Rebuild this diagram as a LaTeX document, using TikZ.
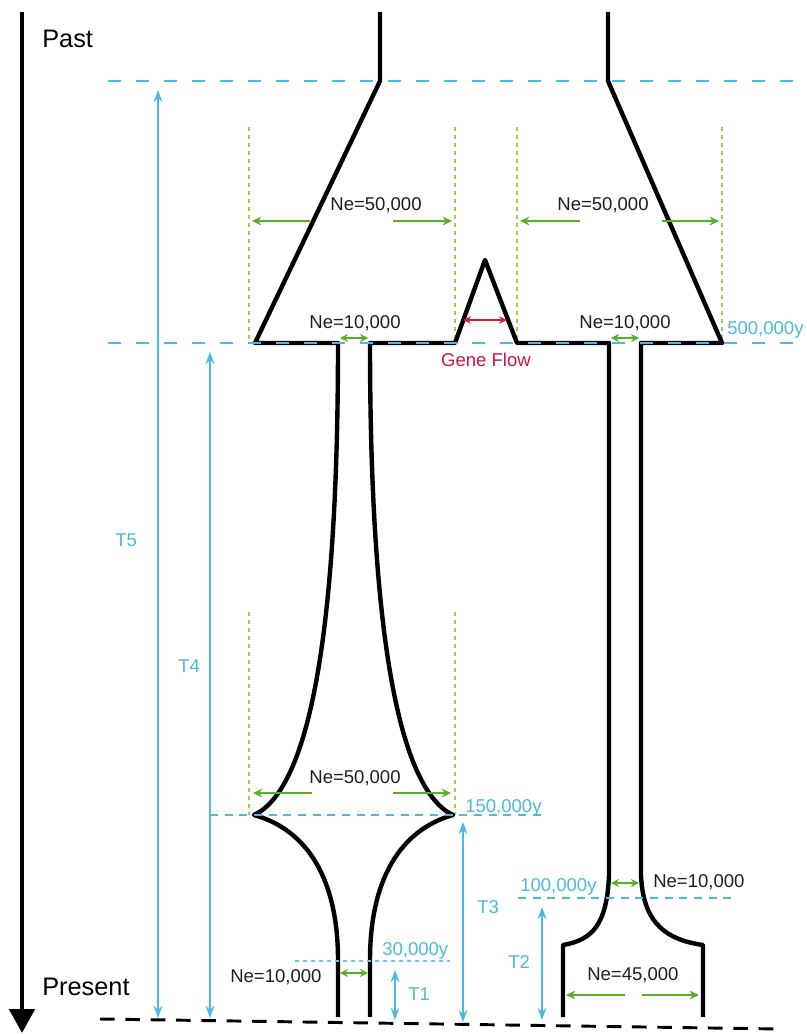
\documentclass[tikz,border=0pt]{standalone}
\usepackage{fontspec}
\setmainfont{Liberation Sans}
\usetikzlibrary{arrows.meta}
\definecolor{tblue}{RGB}{75,185,225}
\definecolor{tgreen}{RGB}{85,175,40}
\definecolor{tguide}{RGB}{150,210,80}
\definecolor{tred}{RGB}{215,30,35}
\definecolor{tcrimson}{RGB}{200,20,70}
\definecolor{ttext}{RGB}{30,30,30}
\tikzset{
  tree/.style={line width=3.3pt, line join=round, line cap=butt},
  timeline/.style={tblue, line width=1.3pt, dash pattern=on 9.75pt off 11.25pt},
  shortdash/.style={tblue, line width=1.2pt, dash pattern=on 6pt off 5pt},
  dotline/.style={tblue!80, line width=1.2pt, dash pattern=on 3pt off 3pt},
  guide/.style={tguide, line width=1.3pt, dash pattern=on 3pt off 3pt},
  garrow/.style={tgreen, line width=1.7pt, -{Stealth[length=7pt,width=6.5pt]}},
  gdarrow/.style={tgreen, line width=1.7pt, {Stealth[length=6pt,width=6pt]}-{Stealth[length=6pt,width=6pt]}},
  rdarrow/.style={tred, line width=1.3pt, {Stealth[length=6pt,width=5.5pt]}-{Stealth[length=6pt,width=5.5pt]}},
  barrow/.style={tblue, line width=1.2pt, {Stealth[length=9pt,width=6.5pt]}-{Stealth[length=9pt,width=6.5pt]}},
  lbl/.style={font=\fontsize{13.9}{16}\selectfont, text=ttext, inner sep=0pt},
  blbl/.style={font=\fontsize{13.9}{16}\selectfont, text=tblue, inner sep=0pt},
  big/.style={font=\fontsize{19}{22}\selectfont, text=black, inner sep=0pt},
}
\begin{document}
\begin{tikzpicture}[x=0.75pt,y=-0.75pt]
\useasboundingbox (0,0) rectangle (806,1034);

% ---------- time axis ----------
\coordinate (axtop) at (22,12);
\coordinate (axbot) at (22,1033);
\draw[line width=3pt, -{Triangle[length=18pt,width=19pt]}] (axtop) -- (axbot);
\node[big, anchor=base west] (past) at (42,48) {Past};
\node[big, anchor=base west] (present) at (42,995) {Present};

% ---------- green guide lines ----------
\coordinate (g1a) at (249,127); \coordinate (g1b) at (249,343);
\coordinate (g2a) at (455,127); \coordinate (g2b) at (455,343);
\coordinate (g3a) at (517,127); \coordinate (g3b) at (517,343);
\coordinate (g4a) at (722,127); \coordinate (g4b) at (722,343);
\coordinate (g5a) at (249,612); \coordinate (g5b) at (249,815);
\coordinate (g6a) at (455,612); \coordinate (g6b) at (455,815);
\draw[guide] (g1a) -- (g1b);
\draw[guide] (g2a) -- (g2b);
\draw[guide] (g3a) -- (g3b);
\draw[guide] (g4a) -- (g4b);
\draw[guide] (g5a) -- (g5b);
\draw[guide] (g6a) -- (g6b);

% ---------- population outlines ----------
\draw[tree] (380,12) -- (380,81) -- (255,343) -- (338,343)
  .. controls (338,640) and (308,790) .. (254,815)
  .. controls (308,830) and (338,880) .. (338,960) -- (338,1017);
\draw[tree] (370,1017) -- (370,960)
  .. controls (370,880) and (400,830) .. (453,815)
  .. controls (400,790) and (370,640) .. (370,343)
  -- (455,343) -- (485,260) -- (517,343) -- (609,343) -- (609,875)
  .. controls (607,925) and (592,940) .. (563,945) -- (563,1017);
\draw[tree] (608,12) -- (608,81) -- (722,343) -- (641,343) -- (641,875)
  .. controls (643,925) and (668,940) .. (703,945) -- (703,1017);

% ---------- time lines ----------
\coordinate (l1a) at (108,81);  \coordinate (l1b) at (806,81);
\coordinate (l2a) at (108,343); \coordinate (l2b) at (806,343);
\coordinate (l3a) at (210,815); \coordinate (l3b) at (541,815);
\coordinate (l4a) at (518,898); \coordinate (l4b) at (737,898);
\coordinate (l5a) at (295,961); \coordinate (l5b) at (450,961);
\draw[timeline] (l1a) -- (l1b);
\draw[timeline] (l2a) -- (l2b);
\draw[shortdash] (l3a) -- (l3b);
\draw[shortdash] (l4a) -- (l4b);
\draw[dotline] (l5a) -- (l5b);

% present line
\coordinate (pl1) at (100,1019);
\coordinate (pl2) at (780,1029);
\draw[line width=2.2pt, dash pattern=on 11pt off 8pt] (pl1) -- (pl2);

% ---------- interval arrows ----------
\coordinate (t5a) at (158,90);  \coordinate (t5b) at (158,1018);
\coordinate (t4a) at (210,352); \coordinate (t4b) at (210,1018);
\coordinate (t3a) at (463,822); \coordinate (t3b) at (463,1022);
\coordinate (t2a) at (542,907); \coordinate (t2b) at (542,1020);
\coordinate (t1a) at (395,970); \coordinate (t1b) at (395,1020);
\draw[barrow] (t5a) -- (t5b);
\draw[barrow] (t4a) -- (t4b);
\draw[barrow] (t3a) -- (t3b);
\draw[barrow] (t2a) -- (t2b);
\draw[barrow] (t1a) -- (t1b);
\node[blbl, anchor=base west] (T5) at (115,546) {T5};
\node[blbl, anchor=base west] (T4) at (178,672) {T4};
\node[blbl, anchor=base west] (T3) at (477,913) {T3};
\node[blbl, anchor=base west] (T2) at (508,968) {T2};
\node[blbl, anchor=base west] (T1) at (408,1000) {T1};

% ---------- time labels ----------
\node[blbl, anchor=base west] (y500) at (727,334) {500,000y};
\node[blbl, anchor=base west] (y150) at (465,812) {150,000y};
\node[blbl, anchor=base west] (y100) at (520,891) {100,000y};
\node[blbl, anchor=base west] (y30) at (382,955) {30,000y};

% ---------- Ne labels and arrows ----------
\node[lbl, anchor=base] (ne1) at (376,211) {Ne=50,000};
\coordinate (a1s) at (310,221); \coordinate (a1e) at (252,221);
\coordinate (a2s) at (393,221); \coordinate (a2e) at (452,221);
\draw[garrow] (a1s) -- (a1e);
\draw[garrow] (a2s) -- (a2e);

\node[lbl, anchor=base] (ne2) at (603,211) {Ne=50,000};
\coordinate (a3s) at (580,221); \coordinate (a3e) at (520,221);
\coordinate (a4s) at (662,221); \coordinate (a4e) at (719,221);
\draw[garrow] (a3s) -- (a3e);
\draw[garrow] (a4s) -- (a4e);

\node[lbl, anchor=base] (ne3) at (355,328) {Ne=10,000};
\coordinate (a5s) at (340,338); \coordinate (a5e) at (368,338);
\draw[gdarrow] (a5s) -- (a5e);

\node[lbl, anchor=base] (ne4) at (625,328) {Ne=10,000};
\coordinate (a6s) at (611,338); \coordinate (a6e) at (639,338);
\draw[gdarrow] (a6s) -- (a6e);

\coordinate (gfs) at (463,320); \coordinate (gfe) at (507,320);
\draw[rdarrow] (gfs) -- (gfe);
\node[lbl, text=tcrimson, anchor=base] (gf) at (486,366) {Gene Flow};

\node[lbl, anchor=base] (ne5) at (355,783) {Ne=50,000};
\coordinate (a7s) at (312,793); \coordinate (a7e) at (253,793);
\coordinate (a8s) at (393,793); \coordinate (a8e) at (451,793);
\draw[garrow] (a7s) -- (a7e);
\draw[garrow] (a8s) -- (a8e);

\node[lbl, anchor=base west] (ne6) at (653,887) {Ne=10,000};
\coordinate (a9s) at (611,883); \coordinate (a9e) at (639,883);
\draw[gdarrow] (a9s) -- (a9e);

\node[lbl, anchor=base west] (ne7) at (587,980) {Ne=45,000};
\coordinate (a10s) at (625,995); \coordinate (a10e) at (566,995);
\coordinate (a11s) at (642,995); \coordinate (a11e) at (699,995);
\draw[garrow] (a10s) -- (a10e);
\draw[garrow] (a11s) -- (a11e);

\node[lbl, anchor=base west] (ne8) at (230,982) {Ne=10,000};
\coordinate (a12s) at (340,973); \coordinate (a12e) at (368,973);
\draw[gdarrow] (a12s) -- (a12e);
\end{tikzpicture}
\end{document}
